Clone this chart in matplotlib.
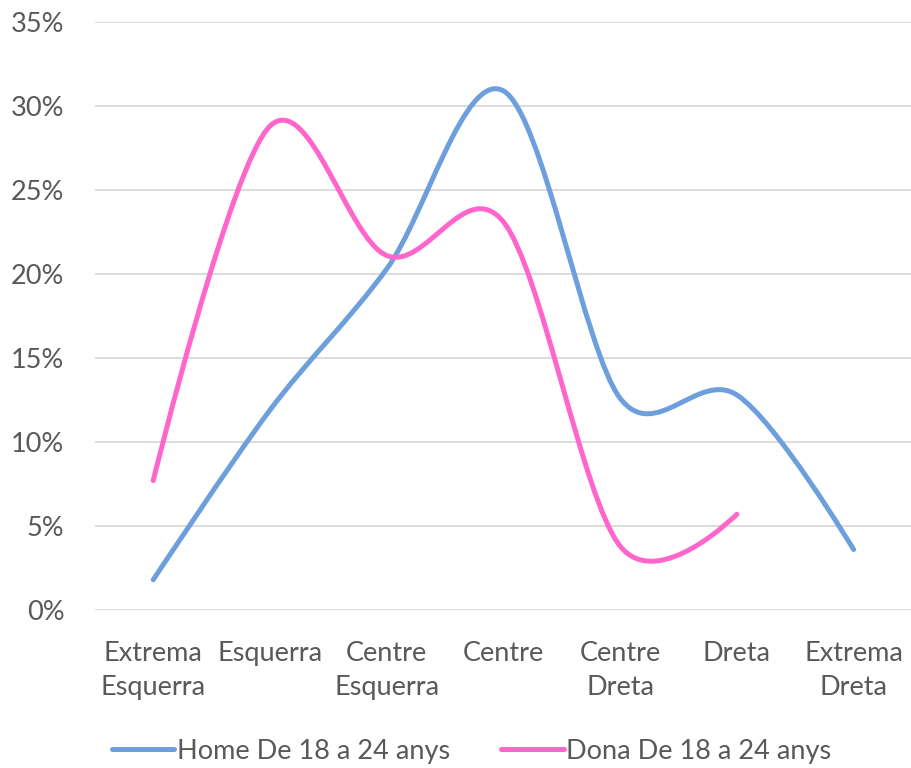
import matplotlib
matplotlib.use('agg')
import matplotlib.pyplot as plt
from matplotlib.path import Path
import matplotlib.patches as mpatches
from matplotlib.lines import Line2D
import numpy as np

plt.rcParams['font.family'] = ['Lato', 'DejaVu Sans']

categories = ['Extrema\nEsquerra', 'Esquerra', 'Centre\nEsquerra', 'Centre',
              'Centre\nDreta', 'Dreta', 'Extrema\nDreta']
home = [1.8, 11.9, 20.3, 30.9, 12.6, 12.8, 3.6]
dona = [7.7, 28.8, 21.1, 23.1, 3.8, 5.7]
labels = ['Home De 18 a 24 anys', 'Dona De 18 a 24 anys']
colors = ['#6d9fdc', '#ff66cc']
text_color = '#595959'


def smooth_path(ax, xs, ys):
    # bezier smoothing similar to the office "smoothed line",
    # control arms computed in screen space and capped by segment length
    pts = ax.transData.transform(np.column_stack([xs, ys]).astype(float))
    n = len(pts)

    def arm(a, b, c):
        v = c - a
        d = np.hypot(*v)
        if d == 0:
            return v * 0
        lim = min(np.hypot(*(b - a)), np.hypot(*(c - b))) / 2.
        f = min(1. / 6., lim / d)
        return v * f

    verts = [pts[0]]
    codes = [Path.MOVETO]
    for i in range(n - 1):
        p0 = pts[max(i - 1, 0)]
        p1 = pts[i]
        p2 = pts[i + 1]
        p3 = pts[min(i + 2, n - 1)]
        c1 = p1 + arm(p0, p1, p2)
        c2 = p2 - arm(p1, p2, p3)
        verts += [c1, c2, p2]
        codes += [Path.CURVE4] * 3
    verts = ax.transData.inverted().transform(np.array(verts))
    return Path(verts, codes)


fig = plt.figure(figsize=(9.12, 7.68), dpi=100)
ax = fig.add_axes([0.104, 0.2057, 0.896, 0.7657])
ax.set_xlim(-0.5, len(categories) - 0.5)
ax.set_ylim(0, 35)

for vals, col in zip([home, dona], colors):
    x = np.arange(len(vals))
    path = smooth_path(ax, x, vals)
    ax.add_patch(mpatches.PathPatch(path, facecolor='none', edgecolor=col,
                                    lw=3.6, capstyle='round', joinstyle='round'))

ax.set_yticks(np.arange(0, 36, 5))
ax.set_yticklabels([f'{v}%' for v in range(0, 36, 5)])
ax.set_xticks(np.arange(len(categories)))
ax.set_xticklabels(categories, linespacing=1.45)
ax.yaxis.grid(True, color='#d9d9d9', lw=1.3)
ax.set_axisbelow(True)
for s in ax.spines.values():
    s.set_visible(False)
ax.tick_params(axis='both', length=0, labelsize=19.5, labelcolor=text_color)
ax.tick_params(axis='y', pad=22)
ax.tick_params(axis='x', pad=22)

handles = [Line2D([0], [0], color=c, lw=3.6, solid_capstyle='round') for c in colors]
fig.legend(handles, labels, loc='center', bbox_to_anchor=(0.517, 0.022), ncol=2,
           frameon=False, fontsize=19.5, labelcolor=text_color, handlelength=2.3,
           handletextpad=0.1, columnspacing=1.9)

fig.savefig('out.png', dpi=100)
plt.close()
